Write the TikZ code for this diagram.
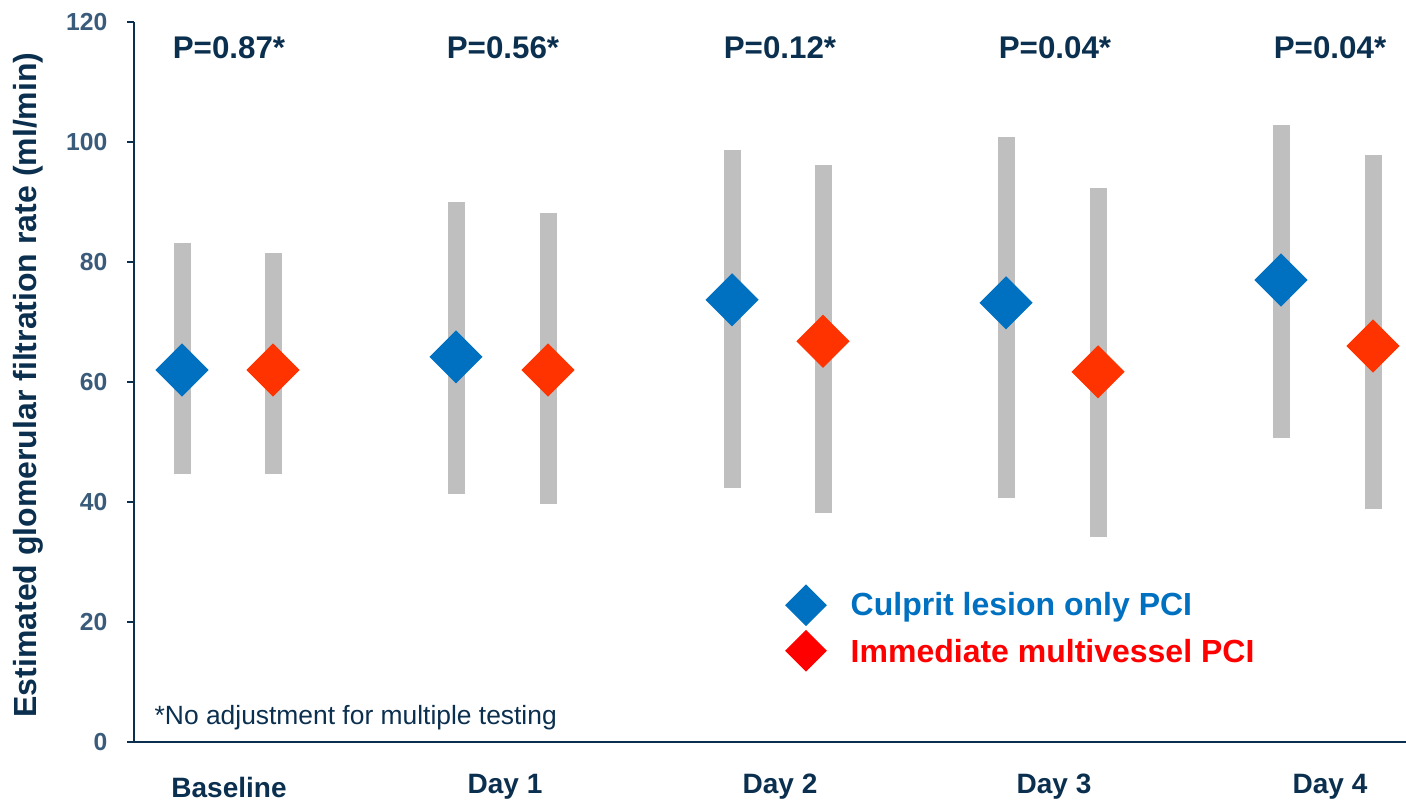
\documentclass[tikz,border=0pt]{standalone}
\usepackage{fontspec}
\setmainfont{Liberation Sans}
\usetikzlibrary{shapes.geometric}
\definecolor{navy}{HTML}{0B2F4E}
\definecolor{ticknavy}{HTML}{3B5B7B}
\definecolor{culprit}{HTML}{0070C0}
\definecolor{multi}{HTML}{FF3300}
\definecolor{legred}{HTML}{FF0000}
\definecolor{bargray}{HTML}{BFBFBF}

\begin{document}
\begin{tikzpicture} [x=0.75pt, y=4.5pt,
    bar/.style={bargray, line width=12.75pt},
    dia/.style={diamond, minimum size=40pt, inner sep=0pt},
    legdia/.style={diamond, minimum size=31.5pt, inner sep=0pt},
    ticklab/.style={anchor=east, ticknavy, font=\fontsize{18.5}{21}\selectfont\bfseries},
    pval/.style={navy, font=\fontsize{23.5}{27}\selectfont\bfseries},
    daylab/.style={navy, font=\fontsize{21}{24}\selectfont\bfseries},
    legtext/.style={anchor=west, font=\fontsize{24}{28}\selectfont\bfseries}
  ]
                    \useasboundingbox (0,-10.17) rectangle (1406,123.67);
                    % axes
                    \draw[navy, line width=1.5pt] (134,120) -- (134,0) -- (1406,0);
                    \draw[navy, line width=1.5pt] (127,120) -- (134,120);
                    \draw[navy, line width=1.5pt] (127,100) -- (134,100);
                    \draw[navy, line width=1.5pt] (127,80) -- (134,80);
                    \draw[navy, line width=1.5pt] (127,60) -- (134,60);
                    \draw[navy, line width=1.5pt] (127,40) -- (134,40);
                    \draw[navy, line width=1.5pt] (127,20) -- (134,20);
                    \draw[navy, line width=1.5pt] (127,0) -- (134,0);
                    \node[ticklab] (t120) at (112,120) {120};
                    \node[ticklab] (t100) at (112,100) {100};
                    \node[ticklab] (t80) at (112,80) {80};
                    \node[ticklab] (t60) at (112,60) {60};
                    \node[ticklab] (t40) at (112,40) {40};
                    \node[ticklab] (t20) at (112,20) {20};
                    \node[ticklab] (t0) at (112,0) {0};
                    \node[navy, rotate=90, font=\fontsize{24}{28}\selectfont\bfseries] (ylab) at (28,59.5)
                         {Estimated glomerular filtration rate (ml/min)};
                    % bar ends
                    \coordinate (b0hi) at (182,83.2);  \coordinate (b0lo) at (182,44.7);
                    \coordinate (r0hi) at (273,81.5);  \coordinate (r0lo) at (273,44.7);
                    \coordinate (b1hi) at (456,90.0);  \coordinate (b1lo) at (456,41.3);
                    \coordinate (r1hi) at (548,88.2);  \coordinate (r1lo) at (548,39.7);
                    \coordinate (b2hi) at (732,98.7);  \coordinate (b2lo) at (732,42.3);
                    \coordinate (r2hi) at (823,96.2);  \coordinate (r2lo) at (823,38.2);
                    \coordinate (b3hi) at (1006,100.8); \coordinate (b3lo) at (1006,40.7);
                    \coordinate (r3hi) at (1098,92.3); \coordinate (r3lo) at (1098,34.2);
                    \coordinate (b4hi) at (1281,102.8); \coordinate (b4lo) at (1281,50.7);
                    \coordinate (r4hi) at (1373,97.8); \coordinate (r4lo) at (1373,38.8);
                    \draw[bar] (b0hi) -- (b0lo);
                    \draw[bar] (r0hi) -- (r0lo);
                    \draw[bar] (b1hi) -- (b1lo);
                    \draw[bar] (r1hi) -- (r1lo);
                    \draw[bar] (b2hi) -- (b2lo);
                    \draw[bar] (r2hi) -- (r2lo);
                    \draw[bar] (b3hi) -- (b3lo);
                    \draw[bar] (r3hi) -- (r3lo);
                    \draw[bar] (b4hi) -- (b4lo);
                    \draw[bar] (r4hi) -- (r4lo);
                    % means
                    \node[dia, fill=culprit] (b0) at (182,62.0) {};
                    \node[dia, fill=multi] (r0) at (273,62.0) {};
                    \node[dia, fill=culprit] (b1) at (456,64.2) {};
                    \node[dia, fill=multi] (r1) at (548,62.0) {};
                    \node[dia, fill=culprit] (b2) at (732,73.7) {};
                    \node[dia, fill=multi] (r2) at (823,66.8) {};
                    \node[dia, fill=culprit] (b3) at (1006,73.2) {};
                    \node[dia, fill=multi] (r3) at (1098,61.7) {};
                    \node[dia, fill=culprit] (b4) at (1281,77.0) {};
                    \node[dia, fill=multi] (r4) at (1373,66.0) {};
                    % p values
                    \node[pval] (p0) at (229,115.7) {P=0.87*};
                    \node[pval] (p1) at (503,115.7) {P=0.56*};
                    \node[pval] (p2) at (780,115.7) {P=0.12*};
                    \node[pval] (p3) at (1055,115.7) {P=0.04*};
                    \node[pval] (p4) at (1330,115.7) {P=0.04*};
                    % days
                    \node[daylab] (d0) at (229,-7.5) {Baseline};
                    \node[daylab] (d1) at (505,-7.5) {Day 1};
                    \node[daylab] (d2) at (780,-7.5) {Day 2};
                    \node[daylab] (d3) at (1054,-7.5) {Day 3};
                    \node[daylab] (d4) at (1330,-7.5) {Day 4};
                    % legend
                    \node[legdia, fill=culprit] (lb) at (806,22.8) {};
                    \node[legdia, fill=legred] (lr) at (806,15.2) {};
                    \node[legtext, culprit] (lbt) at (846,22.5) {Culprit lesion only PCI};
                    \node[legtext, legred] (lrt) at (846,15.2) {Immediate multivessel PCI};
                    \node[anchor=west, navy, font=\fontsize{19.8}{23}\selectfont] (note) at (150,4.0)
                         {*No adjustment for multiple testing};
                \end{tikzpicture}
\end{document}
